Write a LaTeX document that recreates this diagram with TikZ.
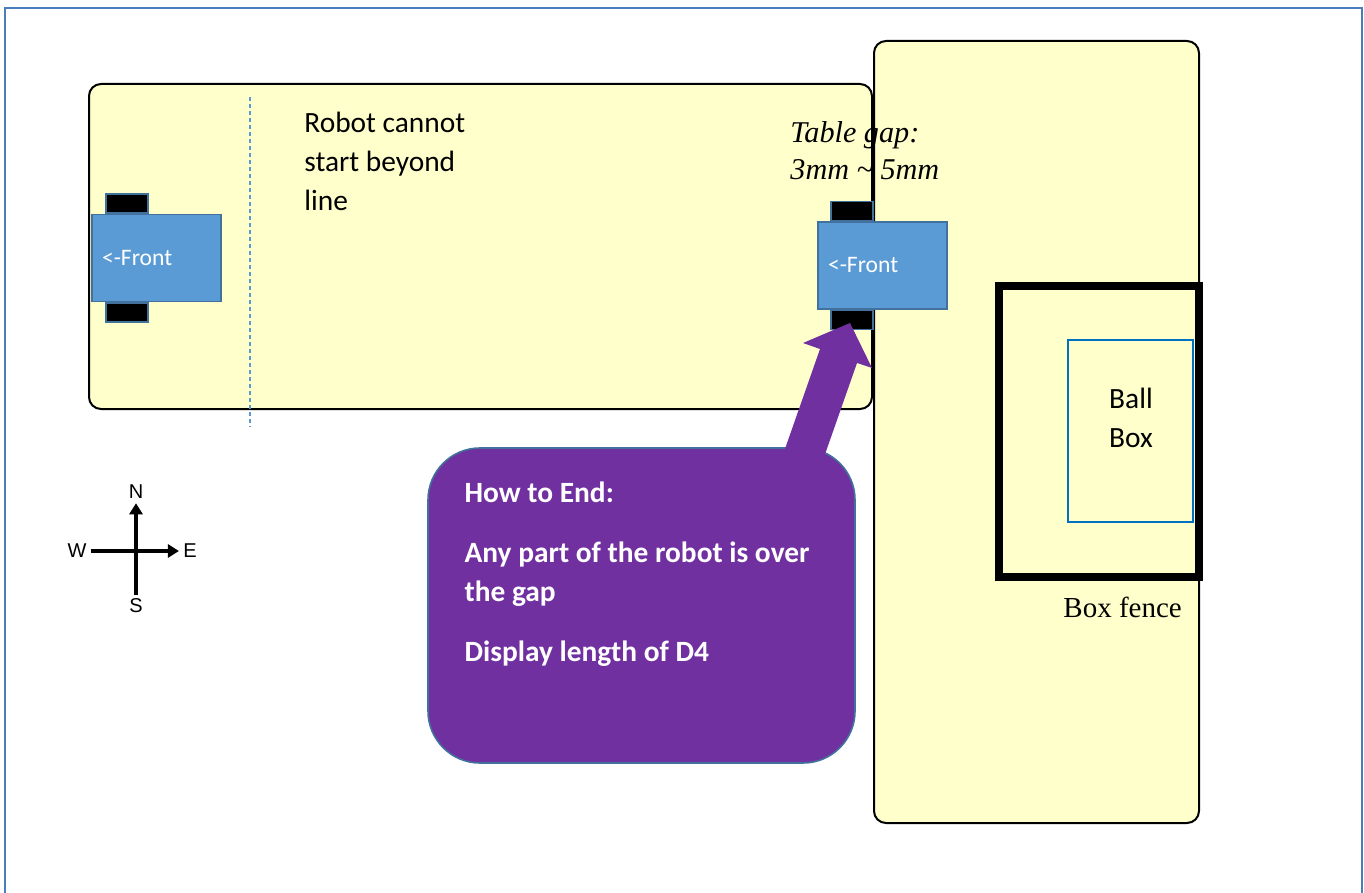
\documentclass[tikz,border=0pt]{standalone}
\usepackage{fontspec}
\setmainfont{Carlito}
\newfontfamily\timesfont{Liberation Serif}
\newfontfamily\arialfont{Liberation Sans}
\usetikzlibrary{positioning,arrows.meta}

\definecolor{framebl}{RGB}{74,126,187}
\definecolor{tablefill}{RGB}{255,255,204}
\definecolor{robotbl}{RGB}{91,155,213}
\definecolor{edgebl}{RGB}{65,113,156}
\definecolor{endpurple}{RGB}{112,48,160}
\definecolor{ballbl}{RGB}{0,112,192}

\tikzset{
  table/.style={draw=black,line width=1pt,fill=tablefill,rounded corners=6pt},
  body/.style={draw=edgebl,line width=0.8pt,fill=robotbl,minimum width=64.5pt,
    minimum height=43.5pt,inner xsep=5pt,inner ysep=0pt,text width=54.5pt,align=left,
    text=white,font=\fontsize{11.8}{14}\selectfont},
  wheel/.style={draw=edgebl,line width=0.8pt,fill=black,minimum width=21pt,
    minimum height=9.5pt,inner sep=0pt},
  note/.style={inner sep=0pt,align=left,font=\fontsize{14.7}{19.5}\selectfont},
  gapnote/.style={inner sep=0pt,align=left,font=\timesfont\itshape\fontsize{15.1}{18.3}\selectfont},
  compass/.style={inner sep=2pt,font=\arialfont\fontsize{10}{11}\selectfont},
  compassline/.style={line width=1.9pt},
  callout/.style={draw=edgebl,line width=0.8pt,fill=endpurple,rounded corners=26pt,
    minimum width=213.5pt,minimum height=157.5pt,inner sep=0pt},
  endtext/.style={inner sep=0pt,align=left,text=white,
    font=\bfseries\fontsize{14.7}{19.5}\selectfont},
}

\begin{document}
\begin{tikzpicture}[x=0.5pt,y=-0.5pt]
  \useasboundingbox (0,0) rectangle (1364,893);
  % outer frame
  \draw[framebl,line width=1pt] (5,893) -- (5,8) -- (1362,8) -- (1362,893);

  % the two tables
  \draw[table] (89,84) rectangle (872,409);
  \draw[table] (874,41) rectangle (1199,823);

  % start line
  \draw[robotbl,line width=0.6pt,dash pattern=on 2pt off 1.5pt] (250,97) -- (250,427);
  \node[note,anchor=north west] (startnote) at (304,112) {Robot cannot\\start beyond\\line};
  \node[gapnote,anchor=north west] (gapnote) at (790,121.5) {Table gap:\\3mm \textasciitilde\ 5mm};

  % robot at start
  \node[body] (lbody) at (156.5,258) {<-Front};
  \node[wheel,anchor=south] (lwheeln) at ([xshift=18pt]lbody.north west) {};
  \node[wheel,anchor=north] (lwheels) at ([xshift=18pt]lbody.south west) {};

  % robot at the gap
  \node[body] (rbody) at (882.5,265.5) {<-Front};
  \node[wheel,anchor=south] (rwheeln) at ([xshift=17.5pt]rbody.north west) {};
  \node[wheel,anchor=north] (rwheels) at ([xshift=17.5pt]rbody.south west) {};

  % compass
  \coordinate (cc) at (136,550);
  \node[compass] (cn) at (136,492) {N};
  \node[compass] (cs) at (136,606) {S};
  \node[compass] (cw) at (77,551) {W};
  \node[compass] (ce) at (190,551) {E};
  \draw[compassline,-{Triangle[length=5.5pt,width=6.5pt]}] (cw) -- (ce);
  \draw[compassline,-{Triangle[length=5.5pt,width=6.5pt]}] (cs) -- (cn);

  % box fence and ball box
  \node[draw=black,line width=3.7pt,minimum width=100pt,minimum height=145.5pt,inner sep=0pt]
    (fence) at (1099,431.5) {};
  \node[draw=ballbl,line width=1.2pt,minimum width=62.5pt,minimum height=91pt,inner sep=0pt]
    (ballbox) at (1130.5,431) {};
  \node[note,align=center,anchor=north] (balltxt) at (1131,388) {Ball\\Box};
  \node[inner sep=0pt,anchor=base west,font=\timesfont\fontsize{14.5}{17}\selectfont]
    (fencetxt) at (1063,617) {Box fence};

  % how to end
  \node[callout] (endbox) at (641.5,605.5) {};
  \node[endtext,anchor=north west] (endtxt) at ([xshift=18.5pt,yshift=-17pt]endbox.north west)
    {How to End:\\[10.5pt]Any part of the robot is over\\the gap\\[10.5pt]Display length of D4};
  \coordinate (tip) at (850,323);
  \fill[endpurple] (tip) -- (872,368) -- (857,363) -- (823.7,458) -- (781.8,458)
    -- (820,349) -- (803,343) -- cycle;
\end{tikzpicture}
\end{document}
